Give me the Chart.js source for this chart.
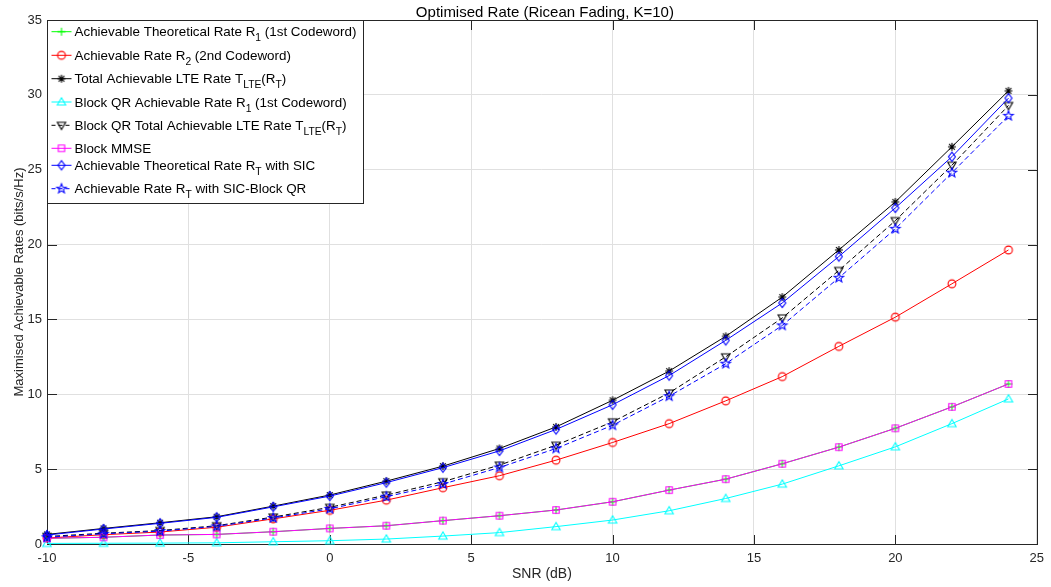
<!DOCTYPE html>
<html>
<head>
<meta charset="utf-8">
<script src="https://cdn.jsdelivr.net/npm/chart.js@4.4.1/dist/chart.umd.min.js"></script>
<style>
  html, body { margin: 0; padding: 0; background: #ffffff; }
  #wrap { width: 1051px; height: 587px; position: relative; }
  canvas { display: block; }
</style>
</head>
<body>
<div id="wrap"><canvas id="rateChart" width="1051" height="587"></canvas></div>
<script>
// SNR sweep (dB)
const snr = [-10, -8, -6, -4, -2, 0, 2, 4, 6, 8, 10, 12, 14, 16, 18, 20, 22, 24];

// Rates in bits/s/Hz
const theoreticalR1 = [0.38, 0.45, 0.60, 0.64, 0.82, 1.04, 1.22, 1.56, 1.89, 2.27, 2.82, 3.60, 4.33, 5.36, 6.47, 7.73, 9.16, 10.69];
const rateR2        = [0.40, 0.62, 0.80, 1.12, 1.68, 2.25, 2.93, 3.76, 4.56, 5.60, 6.78, 8.04, 9.56, 11.18, 13.20, 15.15, 17.38, 19.64];
const totalLte      = [0.64, 1.04, 1.42, 1.82, 2.53, 3.27, 4.20, 5.20, 6.38, 7.82, 9.60, 11.55, 13.87, 16.49, 19.64, 22.85, 26.53, 30.27];
const blockQrR1     = [0.04, 0.05, 0.06, 0.08, 0.15, 0.22, 0.33, 0.53, 0.76, 1.16, 1.60, 2.22, 3.04, 4.00, 5.22, 6.49, 8.04, 9.69];
const blockQrTotal  = [0.50, 0.72, 0.90, 1.22, 1.80, 2.45, 3.27, 4.16, 5.27, 6.60, 8.16, 10.09, 12.50, 15.10, 18.27, 21.60, 25.30, 29.29];
const blockMmse     = [0.38, 0.45, 0.60, 0.64, 0.82, 1.04, 1.22, 1.56, 1.89, 2.27, 2.82, 3.60, 4.33, 5.36, 6.47, 7.73, 9.16, 10.69];
const sicRate       = [0.60, 1.00, 1.38, 1.78, 2.48, 3.20, 4.10, 5.10, 6.22, 7.65, 9.30, 11.25, 13.60, 16.10, 19.20, 22.45, 25.87, 29.78];
const sicBlockQr    = [0.45, 0.68, 0.86, 1.18, 1.74, 2.35, 3.16, 4.00, 5.11, 6.38, 7.93, 9.87, 12.04, 14.60, 17.78, 21.05, 24.80, 28.60];

// Axis ticks
const xTicks = [-10, -5, 0, 5, 10, 15, 20, 25];
const yTicks = [0, 5, 10, 15, 20, 25, 30, 35];

const chartTitle = 'Optimised Rate (Ricean Fading, K=10)';

// Legend entries (TeX-style subscripts: _{...})
const legendNames = [
  'Achievable Theoretical Rate R_{1} (1st Codeword)',
  'Achievable Rate R_{2} (2nd Codeword)',
  'Total Achievable LTE Rate T_{LTE}(R_{T})',
  'Block QR Achievable Rate R_{1} (1st Codeword)',
  'Block QR Total Achievable LTE Rate T_{LTE}(R_{T})',
  'Block MMSE',
  'Achievable Theoretical Rate R_{T} with SIC',
  'Achievable Rate R_{T} with SIC-Block QR'
];

const FONT = '"Liberation Sans", Arial, Helvetica, sans-serif';
const AXIS_COLOR = '#262626';

// Marker glyphs rendered once into small canvases
function marker(shape, color) {
  const S = 16, c = S / 2;
  const cv = document.createElement('canvas');
  cv.width = S; cv.height = S;
  const g = cv.getContext('2d');
  g.strokeStyle = color;
  g.lineWidth = 1.1;
  g.beginPath();
  if (shape === 'o') {
    g.arc(c, c, 3.9, 0, Math.PI * 2);
  } else if (shape === '+') {
    g.moveTo(c - 4, c); g.lineTo(c + 4, c);
    g.moveTo(c, c - 4); g.lineTo(c, c + 4);
  } else if (shape === '*') {
    g.moveTo(c - 4, c); g.lineTo(c + 4, c);
    g.moveTo(c, c - 4); g.lineTo(c, c + 4);
    g.moveTo(c - 2.9, c - 2.9); g.lineTo(c + 2.9, c + 2.9);
    g.moveTo(c - 2.9, c + 2.9); g.lineTo(c + 2.9, c - 2.9);
  } else if (shape === '^') {
    g.moveTo(c, c - 4.2); g.lineTo(c + 4.2, c + 3); g.lineTo(c - 4.2, c + 3); g.closePath();
  } else if (shape === 'v') {
    g.moveTo(c, c + 4.2); g.lineTo(c + 4.2, c - 3); g.lineTo(c - 4.2, c - 3); g.closePath();
  } else if (shape === 's') {
    g.rect(c - 3.2, c - 3.2, 6.4, 6.4);
  } else if (shape === 'd') {
    g.moveTo(c, c - 4.6); g.lineTo(c + 3.5, c); g.lineTo(c, c + 4.6); g.lineTo(c - 3.5, c); g.closePath();
  } else if (shape === 'p') {
    const ro = 5.0, ri = 2.1;
    for (let k = 0; k < 10; k++) {
      const r = k % 2 === 0 ? ro : ri;
      const a = -Math.PI / 2 + k * Math.PI / 5;
      const px = c + r * Math.cos(a), py = c + r * Math.sin(a);
      if (k === 0) g.moveTo(px, py); else g.lineTo(px, py);
    }
    g.closePath();
  }
  g.stroke();
  return cv;
}

const seriesStyle = [
  { data: theoreticalR1, color: '#00ff00', shape: '+', dash: [] },
  { data: rateR2,        color: '#ff0000', shape: 'o', dash: [] },
  { data: totalLte,      color: '#000000', shape: '*', dash: [] },
  { data: blockQrR1,     color: '#00ffff', shape: '^', dash: [] },
  { data: blockQrTotal,  color: '#000000', shape: 'v', dash: [5, 3] },
  { data: blockMmse,     color: '#ff00ff', shape: 's', dash: [] },
  { data: sicRate,       color: '#0000ff', shape: 'd', dash: [] },
  { data: sicBlockQr,    color: '#0000ff', shape: 'p', dash: [5, 3] }
];
seriesStyle.forEach(s => { s.img = marker(s.shape, s.color); });

const plainName = n => n.replace(/_\{([^}]*)\}/g, '$1');

const datasets = seriesStyle.map((s, i) => ({
  label: plainName(legendNames[i]),
  data: snr.map((v, k) => ({ x: v, y: s.data[k] })),
  borderColor: s.color,
  backgroundColor: s.color,
  borderWidth: 1,
  borderDash: s.dash,
  pointStyle: s.img,
  pointRadius: 4,
  pointHoverRadius: 4,
  tension: 0,
  fill: false,
  clip: false,
  order: seriesStyle.length - i   // later series drawn on top
}));

// Axes box with inward ticks on all four sides
const boxAndTicks = {
  id: 'boxAndTicks',
  beforeDatasetsDraw(chart) {
    const { ctx, chartArea: a, scales: { x, y } } = chart;
    const TL = 9.5;
    const L = Math.round(a.left) + 0.5, R = Math.round(a.right) + 0.5;
    const T = Math.round(a.top) + 0.5, B = Math.round(a.bottom) + 0.5;
    ctx.save();
    ctx.strokeStyle = AXIS_COLOR;
    ctx.lineWidth = 1;
    ctx.beginPath();
    xTicks.forEach(v => {
      const px = Math.round(x.getPixelForValue(v)) + 0.5;
      ctx.moveTo(px, B); ctx.lineTo(px, B - TL);
      ctx.moveTo(px, T); ctx.lineTo(px, T + TL);
    });
    yTicks.forEach(v => {
      const py = Math.round(y.getPixelForValue(v)) + 0.5;
      ctx.moveTo(L, py); ctx.lineTo(L + TL, py);
      ctx.moveTo(R, py); ctx.lineTo(R - TL, py);
    });
    ctx.stroke();
    ctx.strokeRect(L, T, R - L, B - T);
    ctx.restore();
  }
};

// Title centred over the plotting area
const axesTitle = {
  id: 'axesTitle',
  afterDraw(chart) {
    const { ctx, chartArea: a } = chart;
    ctx.save();
    ctx.fillStyle = '#000000';
    ctx.font = '15px ' + FONT;
    ctx.textAlign = 'center';
    ctx.textBaseline = 'alphabetic';
    ctx.fillText(chartTitle, (a.left + a.right) / 2 + 3, 17);
    ctx.restore();
  }
};

// Draws a label with _{...} subscripts, returns end x
function drawRich(ctx, text, x, baseline, size) {
  const parts = text.split(/(_\{[^}]*\})/).filter(p => p.length);
  let cx = x;
  parts.forEach(p => {
    const sub = p.startsWith('_{');
    const t = sub ? p.slice(2, -1) : p;
    ctx.font = (sub ? Math.round(size * 0.77 * 10) / 10 : size) + 'px ' + FONT;
    ctx.fillText(t, cx, baseline + (sub ? 5 : 0));
    cx += ctx.measureText(t).width;
  });
  return cx;
}

const richLegend = {
  id: 'richLegend',
  afterDraw(chart) {
    const { ctx, chartArea: a } = chart;
    const bx = Math.round(a.left) + 0.5, by = Math.round(a.top) + 0.5;
    const bw = 316, bh = 183;
    const baselines = [15.7, 39.3, 62.7, 86.0, 109.3, 132.3, 149.3, 172.7];
    ctx.save();
    ctx.fillStyle = '#ffffff';
    ctx.fillRect(bx, by, bw, bh);
    ctx.strokeStyle = AXIS_COLOR;
    ctx.lineWidth = 1;
    ctx.strokeRect(bx, by, bw, bh);
    seriesStyle.forEach((s, i) => {
      const base = by + baselines[i];
      const sy = base - 4.5;
      ctx.save();
      ctx.strokeStyle = s.color;
      ctx.lineWidth = 1;
      ctx.setLineDash(s.dash.length ? [4, 3] : []);
      ctx.beginPath();
      ctx.moveTo(bx + 4, sy); ctx.lineTo(bx + 24, sy);
      ctx.stroke();
      ctx.restore();
      ctx.drawImage(s.img, bx + 14 - s.img.width / 2, sy - s.img.height / 2);
      ctx.fillStyle = '#000000';
      ctx.textBaseline = 'alphabetic';
      ctx.textAlign = 'left';
      drawRich(ctx, legendNames[i], bx + 27, base, 13.4);
    });
    ctx.restore();
  }
};

new Chart(document.getElementById('rateChart'), {
  type: 'line',
  data: { datasets },
  plugins: [boxAndTicks, richLegend, axesTitle],
  options: {
    responsive: false,
    devicePixelRatio: 1,
    animation: false,
    events: [],
    layout: { padding: { left: 0, right: 12, top: 20, bottom: 0 } },
    plugins: {
      legend: { display: false },
      tooltip: { enabled: false },
      title: { display: false }
    },
    scales: {
      x: {
        type: 'linear',
        min: -10, max: 25,
        afterBuildTicks: s => { s.ticks = xTicks.map(v => ({ value: v })); },
        afterFit: s => { s.height = 43; },
        ticks: { color: AXIS_COLOR, font: { family: FONT, size: 13 }, padding: 7, maxRotation: 0 },
        grid: { color: '#e0e0e0', lineWidth: 1, drawTicks: false },
        border: { display: false },
        title: {
          display: true, text: 'SNR (dB)', color: AXIS_COLOR,
          font: { family: FONT, size: 14 }, padding: { top: 0, bottom: 4 }
        }
      },
      y: {
        type: 'linear',
        min: 0, max: 35,
        afterBuildTicks: s => { s.ticks = yTicks.map(v => ({ value: v })); },
        afterFit: s => { s.width = 47; },
        ticks: { color: AXIS_COLOR, font: { family: FONT, size: 13 }, padding: 5 },
        grid: { color: '#e0e0e0', lineWidth: 1, drawTicks: false },
        border: { display: false },
        title: {
          display: true, text: 'Maximised Achievable Rates (bits/s/Hz)', color: AXIS_COLOR,
          font: { family: FONT, size: 13 }, padding: { top: 12, bottom: 0 }
        }
      }
    }
  }
});
</script>
</body>
</html>
